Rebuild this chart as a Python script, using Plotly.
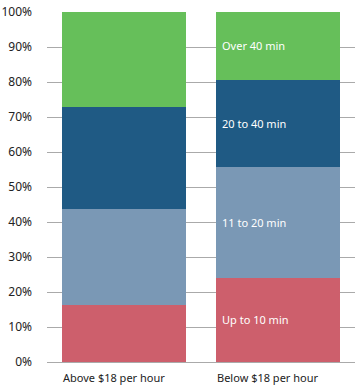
import plotly.graph_objects as go

categories = ["Above $18 per hour", "Below $18 per hour"]
series_names = ["Up to 10 min", "11 to 20 min", "20 to 40 min", "Over 40 min"]
values = {
    "Up to 10 min": [16.3, 24.1],
    "11 to 20 min": [27.4, 31.7],
    "20 to 40 min": [29.2, 24.8],
    "Over 40 min": [27.1, 19.4],
}
colors = ["#CD5F6C", "#7A98B5", "#1F5A84", "#66BF5A"]
tick_vals = [0, 10, 20, 30, 40, 50, 60, 70, 80, 90, 100]
tick_text = [f"{v}%" for v in tick_vals]

FONT = "Noto Sans"
xs = [0, 1]

fig = go.Figure()
for name, col in zip(series_names, colors):
    fig.add_trace(go.Bar(x=xs, y=values[name], name=name, marker=dict(color=col, line=dict(width=0)),
                         hoverinfo="skip"))

annotations = []
cum = 0
for name in series_names:
    v = values[name][1]
    annotations.append(dict(x=1 - 0.4, y=cum + v / 2, text=name, showarrow=False,
                            xanchor="left", yanchor="middle", xshift=4,
                            font=dict(family=FONT, size=11, color="white")))
    cum += v
for i, c in enumerate(categories):
    annotations.append(dict(x=i - 0.4, y=0, text=c, showarrow=False, xanchor="left",
                            yanchor="top", yshift=-6, xshift=-1,
                            font=dict(family=FONT, size=11, color="#222")))

fig.update_layout(
    barmode="stack",
    bargap=0.2,
    width=361, height=390,
    margin=dict(l=47, r=6, t=12, b=28, autoexpand=False),
    paper_bgcolor="white", plot_bgcolor="white",
    showlegend=False,
    hovermode=False,
    font=dict(family=FONT, size=11, color="#222"),
    annotations=annotations,
    xaxis=dict(range=[-0.5, 1.5], showticklabels=False, showgrid=False, zeroline=False,
               showline=False, fixedrange=True, automargin=False),
    yaxis=dict(range=[0, 100], tickvals=tick_vals, ticktext=tick_text, showgrid=True,
               gridcolor="#AAAAAA", gridwidth=1, zeroline=True, zerolinecolor="#AAAAAA",
               zerolinewidth=1, showline=False, ticks="", ticklabelstandoff=14,
               automargin=False, fixedrange=True,
               tickfont=dict(family=FONT, size=12, color="#222")),
)

fig.write_html("out.html", config={"displayModeBar": False},
               post_script="document.body.style.margin='0';document.body.style.padding='0';")
